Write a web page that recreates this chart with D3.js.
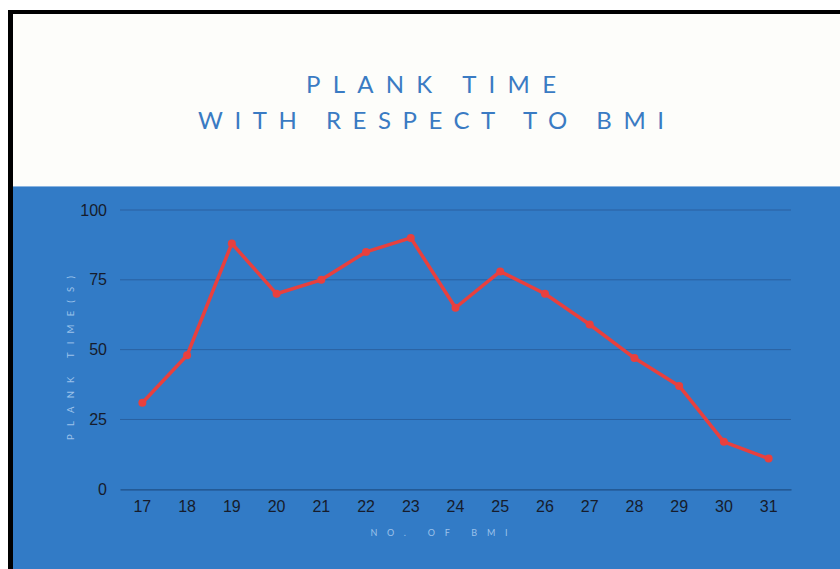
<!DOCTYPE html>
<html>
<head>
<meta charset="utf-8">
<script src="https://cdn.jsdelivr.net/npm/d3@7"></script>
<style>
  html, body { margin: 0; padding: 0; background: #ffffff; }
  svg { display: block; }
</style>
</head>
<body>
<svg id="chart" width="840" height="569"></svg>
<script>
// BMI categories along the x axis
const bmiValues = ["17", "18", "19", "20", "21", "22", "23", "24", "25", "26", "27", "28", "29", "30", "31"];
// Plank time in seconds for each BMI
const plankSeconds = [31, 48, 88, 70, 75, 85, 90, 65, 78, 70, 59, 47, 37, 17, 11];
// Y axis tick values
const yTicks = [0, 25, 50, 75, 100];
const titleLines = ["PLANK TIME", "WITH RESPECT TO BMI"];
const xTitle = "NO. OF BMI";
const yTitle = "PLANK TIME(S)";

const W = 840, H = 569;
const svg = d3.select("#chart");

// page background, blue panel and dark frame
svg.append("rect").attr("x", 0).attr("y", 0).attr("width", W).attr("height", H).attr("fill", "#ffffff");
svg.append("rect").attr("x", 13).attr("y", 14).attr("width", W - 13).attr("height", 172).attr("fill", "#fdfdfa");
svg.append("rect").attr("x", 13).attr("y", 186).attr("width", W - 13).attr("height", 1).attr("fill", "#8ab4e0");
svg.append("rect").attr("x", 13).attr("y", 187).attr("width", W - 13).attr("height", H - 187).attr("fill", "#327bc6");
svg.append("rect").attr("x", 8).attr("y", 10).attr("width", 5).attr("height", H - 10).attr("fill", "#000");
svg.append("rect").attr("x", 8).attr("y", 10).attr("width", W - 8).attr("height", 4).attr("fill", "#000");

// title
const titleWidths = [250, 466];
const titleBase = [92.5, 128.5];
titleLines.forEach((t, i) => {
  svg.append("text")
    .attr("x", 431)
    .attr("y", titleBase[i])
    .attr("text-anchor", "middle")
    .attr("textLength", titleWidths[i])
    .attr("lengthAdjust", "spacing")
    .attr("font-family", "Lato, 'Open Sans', sans-serif")
    .attr("font-weight", 400)
    .attr("font-size", 24)
    .attr("fill", "#3a7bc3")
    .text(t);
});

// plot area
const plotLeft = 120, plotRight = 791, plotTop = 210, plotBottom = 489.3;
const x = d3.scaleBand().domain(bmiValues).range([plotLeft, plotRight]);
const y = d3.scaleLinear().domain([0, 100]).range([plotBottom, plotTop]);

// horizontal gridlines
svg.append("g")
  .selectAll("line")
  .data(yTicks.filter(d => d > 0))
  .join("line")
  .attr("x1", plotLeft).attr("x2", plotRight)
  .attr("y1", d => y(d)).attr("y2", d => y(d))
  .attr("stroke", "#2a61a0")
  .attr("stroke-width", 1);

// y axis labels
const yAxis = svg.append("g")
  .attr("transform", `translate(${plotLeft},0)`)
  .call(d3.axisLeft(y).tickValues(yTicks).tickSize(0).tickPadding(13));
yAxis.select(".domain").remove();
yAxis.selectAll("text")
  .attr("font-family", "'Liberation Sans', Arial, sans-serif")
  .attr("font-size", 16)
  .attr("fill", "#161c2c");

// x axis with baseline
const xAxis = svg.append("g")
  .attr("transform", `translate(0,${plotBottom})`)
  .call(d3.axisBottom(x).tickSize(0).tickPadding(11));
xAxis.select(".domain").attr("stroke", "#1f4f86").attr("stroke-width", 1.2);
xAxis.selectAll("text")
  .attr("font-family", "'Liberation Sans', Arial, sans-serif")
  .attr("font-size", 16)
  .attr("fill", "#161c2c");

// axis titles
svg.append("text")
  .attr("x", 439)
  .attr("y", 535.5)
  .attr("text-anchor", "middle")
  .attr("textLength", 137)
  .attr("lengthAdjust", "spacing")
  .attr("font-family", "Lato, sans-serif")
  .attr("font-size", 9)
  .attr("fill", "#9cc2ea")
  .text(xTitle);

svg.append("text")
  .attr("transform", "translate(73.5,358) rotate(-90)")
  .attr("text-anchor", "middle")
  .attr("textLength", 164)
  .attr("lengthAdjust", "spacing")
  .attr("font-family", "Lato, sans-serif")
  .attr("font-size", 9.5)
  .attr("fill", "#9cc2ea")
  .text(yTitle);

// series line and markers
const cx = d => x(d) + x.bandwidth() / 2;
const line = d3.line()
  .x((d, i) => cx(bmiValues[i]))
  .y(d => y(d));

svg.append("path")
  .datum(plankSeconds)
  .attr("d", line)
  .attr("fill", "none")
  .attr("stroke", "#e8403e")
  .attr("stroke-width", 3.5)
  .attr("stroke-linejoin", "round");

svg.append("g")
  .selectAll("circle")
  .data(plankSeconds)
  .join("circle")
  .attr("cx", (d, i) => cx(bmiValues[i]))
  .attr("cy", d => y(d))
  .attr("r", 4)
  .attr("fill", "#e8403e");
</script>
</body>
</html>
